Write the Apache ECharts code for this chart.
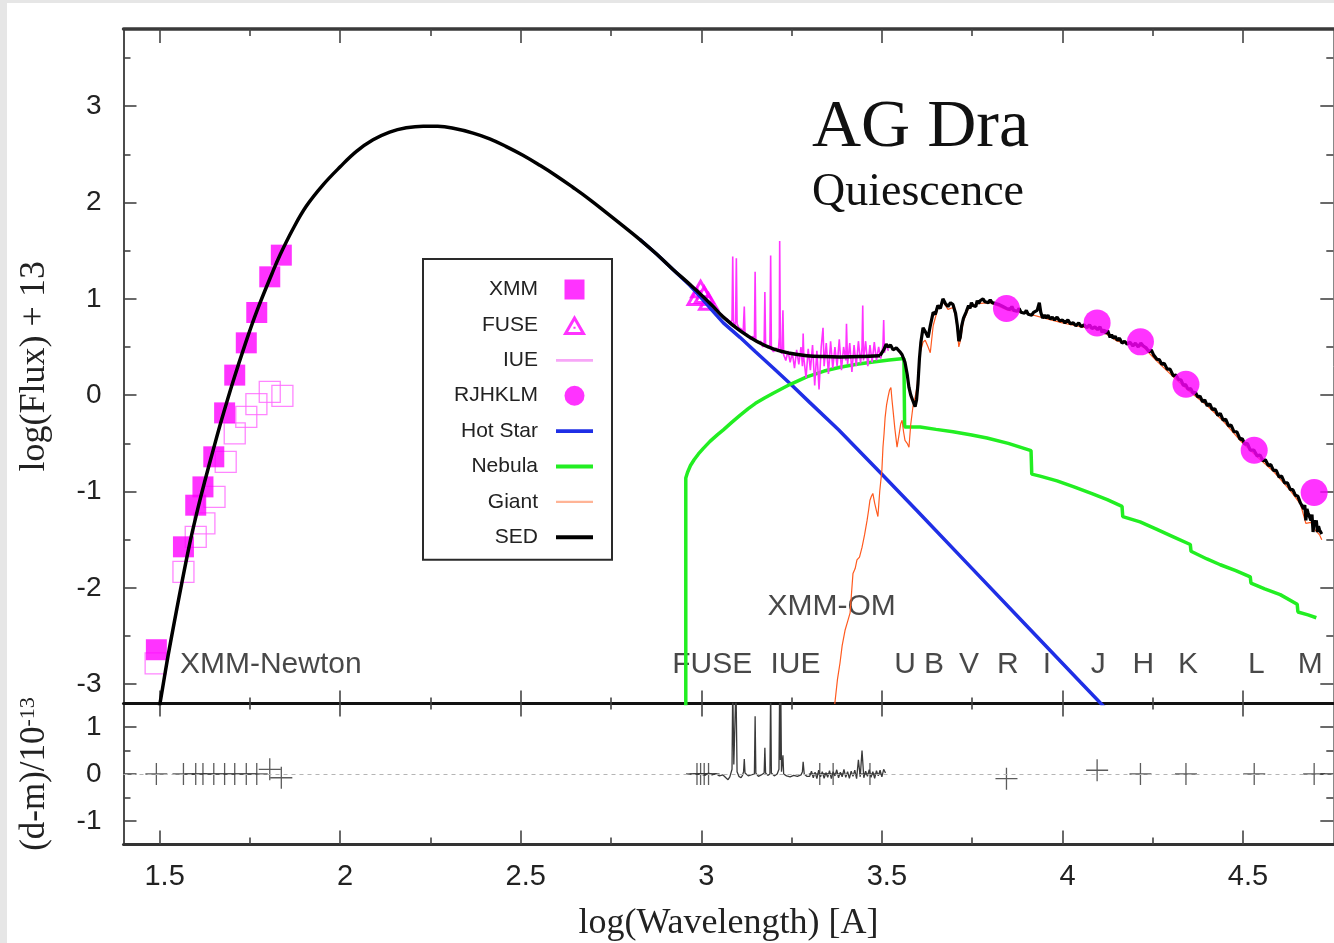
<!DOCTYPE html>
<html>
<head>
<meta charset="utf-8">
<title>AG Dra SED</title>
<script src="https://cdn.jsdelivr.net/npm/echarts@6/dist/echarts.min.js"></script>
<style>
  html, body { margin: 0; padding: 0; width: 1334px; height: 943px; overflow: hidden; background: #e6e6e6; }
  #chart { position: absolute; left: 7px; top: 3px; width: 1327px; height: 940px; background: #ffffff; }
</style>
</head>
<body>
<div id="chart"></div>
<script>
// ---------------- data (log wavelength [A], log flux + 13) ----------------
const xMajorTicks = [1.5, 2, 2.5, 3, 3.5, 4, 4.5];
const xMinorTicks = [1.75, 2.25, 2.75, 3.25, 3.75, 4.25];
const fluxTicks = [-3, -2, -1, 0, 1, 2, 3];
const fluxMinorTicks = [-2.5, -1.5, -0.5, 0.5, 1.5, 2.5, 3.5];
const residTicks = [-1, 0, 1];
const residMinorTicks = [-0.5, 0.5];

// XMM-Newton photometry (filled) and the second XMM set (open)
const xmmFilled = [
  [1.491, -2.642], [1.566, -1.574], [1.600, -1.142], [1.620, -0.952], [1.650, -0.640],
  [1.680, -0.184], [1.708, 0.208], [1.740, 0.543], [1.769, 0.858], [1.805, 1.228], [1.837, 1.453]
];
const xmmOpen = [
  [1.489, -2.784], [1.566, -1.834], [1.600, -1.470], [1.624, -1.331], [1.652, -1.055],
  [1.683, -0.692], [1.708, -0.397], [1.740, -0.225], [1.768, -0.093], [1.805, 0.034], [1.840, -0.007]
];
// FUSE points
const fusePoints = [[2.988, 1.03], [2.998, 1.11], [3.008, 1.05], [3.020, 0.98]];
// R J H K L M photometry
const photometry = [[3.845, 0.900], [4.096, 0.750], [4.216, 0.553], [4.342, 0.114], [4.531, -0.571], [4.697, -1.010]];

// IUE spectrum
const iueSpectrum = [
  [3.000, 1.03], [3.008, 1.00], [3.016, 0.97], [3.024, 0.95], [3.032, 0.91], [3.040, 0.89], [3.048, 0.85],
  [3.056, 0.84], [3.064, 0.80], [3.072, 0.79], [3.080, 0.75], [3.085, 0.78], [3.087, 1.44], [3.089, 0.76],
  [3.093, 0.72], [3.095, 0.77], [3.097, 1.42], [3.099, 0.74], [3.104, 0.70], [3.110, 0.69], [3.116, 0.66],
  [3.119, 0.92], [3.121, 0.64], [3.128, 0.63], [3.136, 0.58], [3.143, 0.61], [3.147, 0.58], [3.149, 1.28],
  [3.151, 0.57], [3.158, 0.54], [3.165, 0.56], [3.170, 0.50], [3.174, 0.54], [3.176, 1.07], [3.178, 0.51],
  [3.184, 0.49], [3.190, 0.52], [3.192, 1.45], [3.194, 0.48], [3.200, 0.45], [3.207, 0.49], [3.213, 0.45],
  [3.216, 0.60], [3.217, 1.60], [3.219, 0.46], [3.223, 0.43], [3.226, 0.88], [3.228, 0.42], [3.234, 0.36],
  [3.240, 0.46], [3.246, 0.34], [3.252, 0.44], [3.258, 0.28], [3.264, 0.47], [3.270, 0.32], [3.276, 0.50],
  [3.280, 0.30], [3.282, 0.64], [3.284, 0.38], [3.290, 0.18], [3.296, 0.48], [3.302, 0.26], [3.308, 0.52],
  [3.314, 0.10], [3.320, 0.46], [3.326, 0.06], [3.332, 0.50], [3.337, 0.70], [3.340, 0.30], [3.346, 0.54],
  [3.352, 0.22], [3.358, 0.56], [3.364, 0.28], [3.370, 0.50], [3.376, 0.30], [3.382, 0.58], [3.388, 0.26],
  [3.394, 0.50], [3.400, 0.36], [3.402, 0.74], [3.405, 0.32], [3.411, 0.54], [3.417, 0.24], [3.423, 0.52],
  [3.429, 0.30], [3.435, 0.56], [3.441, 0.33], [3.445, 0.50], [3.447, 0.93], [3.449, 0.36], [3.455, 0.56],
  [3.461, 0.30], [3.467, 0.52], [3.473, 0.34], [3.479, 0.55], [3.485, 0.36], [3.491, 0.50], [3.497, 0.38],
  [3.503, 0.52], [3.505, 0.78], [3.507, 0.44], [3.512, 0.52], [3.518, 0.46]
];

// model components
const hotStar = [
  [2.830, 1.615], [2.876, 1.465], [2.920, 1.31], [2.968, 1.14], [3.000, 1.01], [3.030, 0.88], [3.061, 0.75],
  [3.107, 0.60], [3.150, 0.45], [3.200, 0.28], [3.250, 0.105], [3.300, -0.075], [3.380, -0.36],
  [3.500, -0.82], [3.600, -1.21], [3.750, -1.80], [3.900, -2.39], [4.050, -2.98], [4.150, -3.37]
];
const nebula = [
  [2.957, -3.40], [2.957, -0.86], [2.962, -0.80], [2.970, -0.73], [2.980, -0.67], [2.992, -0.61],
  [3.005, -0.555], [3.024, -0.48], [3.045, -0.41], [3.061, -0.36], [3.085, -0.28], [3.107, -0.21],
  [3.130, -0.14], [3.150, -0.085], [3.175, -0.03], [3.199, 0.02], [3.245, 0.11], [3.292, 0.19],
  [3.340, 0.25], [3.384, 0.29], [3.430, 0.32], [3.476, 0.345], [3.520, 0.365], [3.561, 0.38],
  [3.563, -0.33], [3.606, -0.33], [3.650, -0.355], [3.697, -0.38], [3.745, -0.41], [3.791, -0.445],
  [3.850, -0.50], [3.913, -0.575], [3.915, -0.82], [3.938, -0.84], [3.985, -0.89], [4.030, -0.95],
  [4.080, -1.02], [4.124, -1.085], [4.165, -1.155], [4.167, -1.26], [4.215, -1.315], [4.260, -1.39],
  [4.307, -1.47], [4.354, -1.55], [4.356, -1.62], [4.400, -1.70], [4.437, -1.76], [4.480, -1.82],
  [4.520, -1.885], [4.522, -1.95], [4.560, -2.01], [4.603, -2.07], [4.650, -2.17], [4.652, -2.25],
  [4.680, -2.28], [4.703, -2.31]
];
const giant = [
  [3.365, -3.35], [3.370, -3.19], [3.377, -2.95], [3.384, -2.78], [3.390, -2.60], [3.398, -2.44],
  [3.405, -2.35], [3.412, -2.26], [3.416, -2.05], [3.420, -1.85], [3.426, -1.80], [3.431, -1.71],
  [3.438, -1.68], [3.445, -1.58], [3.452, -1.45], [3.459, -1.30], [3.463, -1.20], [3.467, -1.09],
  [3.471, -1.05], [3.475, -1.02], [3.480, -1.12], [3.485, -1.20], [3.489, -1.26], [3.494, -1.00],
  [3.500, -0.78], [3.503, -0.54], [3.506, -0.40], [3.509, -0.23], [3.513, -0.10], [3.517, -0.02],
  [3.521, 0.05], [3.525, 0.08], [3.528, -0.05], [3.531, -0.16], [3.536, -0.35], [3.542, -0.54],
  [3.548, -0.40], [3.552, -0.30], [3.556, -0.26], [3.560, -0.38], [3.564, -0.47], [3.570, -0.50],
  [3.575, -0.54], [3.580, -0.30], [3.586, -0.12], [3.592, -0.02], [3.597, 0.08], [3.602, 0.30],
  [3.606, 0.44], [3.614, 0.55], [3.620, 0.57], [3.628, 0.50], [3.634, 0.44], [3.642, 0.72],
  [3.655, 0.90], [3.669, 0.97], [3.683, 0.89], [3.697, 0.91], [3.704, 0.82], [3.709, 0.68],
  [3.713, 0.50], [3.717, 0.56], [3.726, 0.77], [3.740, 0.90], [3.764, 0.95], [3.800, 0.96],
  [3.850, 0.88], [3.900, 0.85], [3.950, 0.80], [4.000, 0.75], [4.050, 0.71], [4.104, 0.68],
  [4.152, 0.56], [4.224, 0.50], [4.262, 0.35], [4.307, 0.19], [4.348, 0.05], [4.401, -0.11],
  [4.445, -0.27], [4.492, -0.47], [4.539, -0.64], [4.584, -0.79], [4.631, -0.99], [4.659, -1.13],
  [4.674, -1.33], [4.688, -1.32], [4.700, -1.40], [4.712, -1.45], [4.718, -1.50]
];
// total model: smooth hot-star dominated part, then the cool-giant part
const sedSmooth = [
  [1.495, -3.31], [1.501, -3.20], [1.527, -2.63], [1.580, -1.60], [1.607, -1.16], [1.626, -0.88],
  [1.649, -0.56], [1.672, -0.25], [1.704, 0.15], [1.737, 0.53], [1.769, 0.87], [1.811, 1.26],
  [1.834, 1.46], [1.870, 1.73], [1.906, 1.96], [1.952, 2.18], [2.000, 2.37], [2.045, 2.53],
  [2.091, 2.65], [2.137, 2.73], [2.183, 2.775], [2.230, 2.792], [2.270, 2.790], [2.310, 2.772],
  [2.368, 2.72], [2.414, 2.66], [2.460, 2.58], [2.506, 2.49], [2.553, 2.385], [2.599, 2.275],
  [2.645, 2.155], [2.691, 2.03], [2.737, 1.895], [2.784, 1.755], [2.830, 1.615], [2.876, 1.465],
  [2.920, 1.31], [2.968, 1.15], [3.000, 1.04], [3.030, 0.93], [3.061, 0.81], [3.107, 0.67],
  [3.153, 0.56], [3.199, 0.48], [3.245, 0.435], [3.292, 0.41], [3.340, 0.40], [3.384, 0.397],
  [3.440, 0.40], [3.495, 0.41]
];
const sedGiant = [
  [3.495, 0.41], [3.505, 0.47], [3.512, 0.53], [3.518, 0.50], [3.524, 0.52], [3.531, 0.47], [3.540, 0.49],
  [3.550, 0.45], [3.556, 0.42], [3.564, 0.34], [3.570, 0.22], [3.575, 0.08], [3.580, 0.00], [3.586, -0.06],
  [3.592, -0.12], [3.596, -0.05], [3.600, 0.12], [3.604, 0.38], [3.608, 0.55], [3.614, 0.70], [3.620, 0.66],
  [3.628, 0.60], [3.634, 0.72], [3.642, 0.86], [3.648, 0.84], [3.655, 0.93], [3.662, 0.90], [3.669, 1.00],
  [3.676, 0.95], [3.683, 0.92], [3.690, 0.96], [3.697, 0.94], [3.704, 0.85], [3.709, 0.72], [3.713, 0.56],
  [3.717, 0.60], [3.721, 0.72], [3.726, 0.80], [3.733, 0.86], [3.740, 0.93], [3.744, 0.90], [3.748, 0.96],
  [3.752, 0.93], [3.756, 0.95], [3.760, 0.92], [3.764, 0.98], [3.768, 0.95], [3.772, 0.98], [3.776, 0.96],
  [3.780, 1.00], [3.785, 0.97], [3.790, 0.99], [3.795, 0.96], [3.800, 0.99], [3.805, 0.96], [3.810, 0.98],
  [3.815, 0.95], [3.820, 0.97], [3.825, 0.94], [3.830, 0.95], [3.835, 0.92], [3.840, 0.93], [3.845, 0.90],
  [3.850, 0.91], [3.855, 0.89], [3.860, 0.92], [3.865, 0.88], [3.870, 0.89], [3.875, 0.87], [3.880, 0.90],
  [3.885, 0.86], [3.890, 0.87], [3.895, 0.85], [3.900, 0.88], [3.905, 0.84], [3.910, 0.85], [3.915, 0.83],
  [3.920, 0.86], [3.925, 0.84], [3.930, 0.88], [3.936, 0.96], [3.940, 0.86], [3.945, 0.80], [3.950, 0.83],
  [3.955, 0.80], [3.960, 0.83], [3.966, 0.79], [3.972, 0.81], [3.978, 0.78], [3.985, 0.81], [3.992, 0.77],
  [4.000, 0.78], [4.007, 0.75], [4.015, 0.78], [4.022, 0.74], [4.030, 0.75], [4.037, 0.72], [4.045, 0.75],
  [4.052, 0.71], [4.060, 0.73], [4.067, 0.70], [4.075, 0.73], [4.082, 0.69], [4.090, 0.71], [4.097, 0.68],
  [4.104, 0.71], [4.110, 0.65], [4.115, 0.68], [4.120, 0.64], [4.125, 0.67], [4.132, 0.60], [4.136, 0.63],
  [4.140, 0.59], [4.146, 0.61], [4.152, 0.57], [4.158, 0.59], [4.165, 0.54], [4.172, 0.56], [4.179, 0.53],
  [4.187, 0.55], [4.195, 0.51], [4.202, 0.54], [4.210, 0.50], [4.217, 0.54], [4.224, 0.51], [4.232, 0.49],
  [4.240, 0.45], [4.246, 0.47], [4.252, 0.42], [4.257, 0.41], [4.262, 0.37], [4.268, 0.37], [4.275, 0.32],
  [4.282, 0.33], [4.290, 0.27], [4.298, 0.27], [4.307, 0.20], [4.314, 0.21], [4.322, 0.16], [4.328, 0.16],
  [4.335, 0.10], [4.341, 0.11], [4.348, 0.06], [4.355, 0.07], [4.362, 0.02], [4.368, 0.03], [4.375, -0.02],
  [4.381, -0.01], [4.388, -0.07], [4.394, -0.05], [4.401, -0.11], [4.408, -0.09], [4.415, -0.15],
  [4.422, -0.14], [4.430, -0.21], [4.437, -0.19], [4.445, -0.26], [4.452, -0.25], [4.460, -0.32],
  [4.467, -0.31], [4.475, -0.38], [4.483, -0.38], [4.492, -0.46], [4.498, -0.45], [4.505, -0.51],
  [4.512, -0.50], [4.520, -0.57], [4.530, -0.57], [4.539, -0.63], [4.547, -0.62], [4.555, -0.68],
  [4.562, -0.67], [4.570, -0.73], [4.577, -0.72], [4.584, -0.78], [4.592, -0.78], [4.600, -0.85],
  [4.607, -0.84], [4.615, -0.91], [4.623, -0.91], [4.631, -0.98], [4.638, -0.98], [4.645, -1.04],
  [4.652, -1.05], [4.659, -1.12], [4.664, -1.10], [4.668, -1.18], [4.671, -1.14], [4.674, -1.30],
  [4.677, -1.18], [4.680, -1.22], [4.684, -1.20], [4.688, -1.30], [4.691, -1.24], [4.694, -1.42],
  [4.697, -1.30], [4.700, -1.35], [4.703, -1.30], [4.706, -1.42], [4.709, -1.36], [4.712, -1.40],
  [4.715, -1.38], [4.718, -1.44]
];

// residuals (d-m)/1e-13
const residSpectrum = [
  [2.998, 0.00], [3.010, -0.03], [3.020, 0.02], [3.030, -0.02], [3.040, 0.01], [3.050, -0.04], [3.060, -0.02],
  [3.068, -0.08], [3.074, -0.12], [3.079, -0.06], [3.085, 0.10], [3.087, 1.90], [3.090, 0.20], [3.096, 1.90],
  [3.099, 0.05], [3.104, -0.05], [3.110, -0.08], [3.114, -0.03], [3.117, 0.05], [3.119, 0.32], [3.121, 0.02],
  [3.130, -0.04], [3.138, -0.02], [3.147, 0.00], [3.149, 1.23], [3.151, 0.02], [3.158, -0.05], [3.166, -0.02],
  [3.174, 0.02], [3.176, 0.56], [3.178, 0.02], [3.184, -0.03], [3.190, 0.00], [3.192, 1.90], [3.194, 0.02],
  [3.202, -0.04], [3.210, 0.00], [3.215, 0.10], [3.217, 1.90], [3.219, 0.30], [3.220, 1.90], [3.222, 0.05],
  [3.224, 0.02], [3.226, 0.40], [3.228, 0.00], [3.236, -0.04], [3.246, -0.06], [3.256, -0.03], [3.266, -0.05],
  [3.276, -0.02], [3.280, 0.05], [3.282, 0.26], [3.285, 0.00], [3.292, -0.05], [3.300, -0.05], [3.305, 0.06],
  [3.310, -0.08], [3.315, 0.04], [3.320, -0.10], [3.325, 0.08], [3.330, -0.06], [3.335, 0.05], [3.340, -0.09],
  [3.345, 0.03], [3.350, -0.07], [3.355, 0.07], [3.360, -0.10], [3.365, 0.05], [3.370, -0.04], [3.375, 0.09],
  [3.380, -0.08], [3.385, 0.04], [3.390, -0.06], [3.395, 0.10], [3.400, -0.07], [3.405, 0.05], [3.410, -0.09],
  [3.415, 0.06], [3.420, -0.05], [3.425, 0.08], [3.430, -0.10], [3.435, 0.30], [3.440, -0.06], [3.445, 0.50],
  [3.450, -0.08], [3.455, 0.06], [3.460, -0.05], [3.465, 0.09], [3.470, -0.07], [3.475, 0.05], [3.480, -0.09],
  [3.485, 0.07], [3.490, -0.04], [3.495, 0.08], [3.500, -0.06], [3.505, 0.10], [3.510, 0.02]
];
const residPoints = [
  [1.491, 0], [1.566, 0], [1.600, 0], [1.620, 0], [1.650, 0], [1.680, 0], [1.708, 0], [1.740, 0],
  [1.769, 0], [1.805, 0.10], [1.837, -0.08],
  [2.988, 0], [2.998, 0], [3.008, 0], [3.020, 0],
  [3.328, 0], [3.365, 0], [3.467, 0],
  [3.845, -0.10], [4.096, 0.08], [4.216, 0], [4.342, 0], [4.531, 0], [4.697, 0]
];

// annotation labels placed in data coordinates
const bandNames = ['U', 'B', 'V', 'R', 'I', 'J', 'H', 'K', 'L', 'M'];
const bandCenters = [3.564, 3.644, 3.741, 3.849, 3.957, 4.099, 4.224, 4.348, 4.537, 4.686];
const bandLabelY = -2.80;
const instrumentNames = ['XMM-Newton', 'FUSE', 'IUE', 'XMM-OM'];
const instrumentStarts = [1.555, 2.918, 3.190, 3.182];
const instrumentY = [-2.80, -2.80, -2.80, -2.20];

// ---------------- styling ----------------
const SERIF = '"Liberation Serif","DejaVu Serif",serif';
const SANS = '"Liberation Sans","DejaVu Sans",sans-serif';
const X_MIN = 1.4, X_MAX = 4.75;
const FLUX_MIN = -3.2, FLUX_MAX = 3.8;
const RES_MIN = -1.5, RES_MAX = 1.5;

const squarePath = 'path://M0,0H10V10H0Z';
const trianglePath = 'path://M10,0L20,17.3L0,17.3Z M10,5.2L4.5,14.7L15.5,14.7Z M9.1,10.2H10.9V12H9.1Z';
const crossPath = 'path://M10,0V20M0,10H20';

function axis(gridIndex, position, min, max, ticks, tickLen, line, label) {
  return {
    type: 'value', gridIndex, position, min, max,
    axisLine: line ? { show: true, onZero: false, lineStyle: line } : { show: false, onZero: false },
    axisTick: { show: true, inside: true, length: tickLen, customValues: ticks,
      lineStyle: { color: '#444', width: 1.6 } },
    axisLabel: label ? Object.assign({ show: true, customValues: ticks, fontFamily: SANS,
      fontSize: 28, color: '#222' }, label) : { show: false },
    splitLine: { show: false },
    minorTick: { show: false },
    silent: true
  };
}

const xAxes = [
  axis(0, 'bottom', X_MIN, X_MAX, xMajorTicks, 13, { color: '#111', width: 3 }),
  axis(0, 'bottom', X_MIN, X_MAX, xMinorTicks, 6, null),
  axis(0, 'top', X_MIN, X_MAX, xMajorTicks, 14, { color: '#3a3a3a', width: 3.5 }),
  axis(0, 'top', X_MIN, X_MAX, xMinorTicks, 7, null),
  axis(1, 'top', X_MIN, X_MAX, xMajorTicks, 13, null),
  axis(1, 'top', X_MIN, X_MAX, xMinorTicks, 6, null),
  Object.assign(axis(1, 'bottom', X_MIN, X_MAX, xMajorTicks, 14, { color: '#333', width: 3 },
    { margin: 18, fontSize: 29, padding: [0, 0, 0, 10] }), {
    name: 'log(Wavelength) [A]', nameLocation: 'middle', nameGap: 61,
    nameTextStyle: { fontFamily: SERIF, fontSize: 36, color: '#222' }
  }),
  axis(1, 'bottom', X_MIN, X_MAX, xMinorTicks, 7, null)
];
const yAxes = [
  Object.assign(axis(0, 'left', FLUX_MIN, FLUX_MAX, fluxTicks, 13, { color: '#111', width: 1.5 }, { margin: 22 }), {
    name: 'log(Flux) + 13', nameLocation: 'middle', nameGap: 71, nameRotate: 90,
    nameTextStyle: { fontFamily: SERIF, fontSize: 36, color: '#222' }
  }),
  axis(0, 'left', FLUX_MIN, FLUX_MAX, fluxMinorTicks, 7, null),
  axis(0, 'right', FLUX_MIN, FLUX_MAX, fluxTicks, 13, { color: '#888', width: 1 }),
  axis(0, 'right', FLUX_MIN, FLUX_MAX, fluxMinorTicks, 7, null),
  Object.assign(axis(1, 'left', RES_MIN, RES_MAX, residTicks, 13, { color: '#111', width: 1.5 }, { margin: 22 }), {
    name: '(d-m)/10{s|-13}', nameLocation: 'middle', nameGap: 71, nameRotate: 90,
    nameTextStyle: { fontFamily: SERIF, fontSize: 35, color: '#222',
      rich: { s: { fontFamily: SERIF, fontSize: 22, color: '#222', verticalAlign: 'top' } } }
  }),
  axis(1, 'left', RES_MIN, RES_MAX, residMinorTicks, 7, null),
  axis(1, 'right', RES_MIN, RES_MAX, residTicks, 13, { color: '#888', width: 1 }),
  axis(1, 'right', RES_MIN, RES_MAX, residMinorTicks, 7, null)
];

function curve(name, data, color, width, extra) {
  return Object.assign({
    type: 'line', name, data, xAxisIndex: 0, yAxisIndex: 0,
    symbol: 'none', showSymbol: false, clip: true, silent: true,
    lineStyle: { color, width }, itemStyle: { color },
    emphasis: { disabled: true }
  }, extra || {});
}
function points(name, data, symbol, size, itemStyle, extra) {
  return Object.assign({
    type: 'scatter', name, data, xAxisIndex: 0, yAxisIndex: 0,
    symbol, symbolSize: size, itemStyle, silent: true, emphasis: { disabled: true }
  }, extra || {});
}

const series = [
  curve('Hot Star', hotStar, '#1f2fe6', 3.5),
  curve('Nebula', nebula, '#22ee22', 3.5),
  curve('Giant', giant, '#ff5a1f', 1.2),
  curve('IUE', iueSpectrum, '#ff33ff', 1.6),
  points('XMM-open', xmmOpen, squarePath, 21,
    { color: 'rgba(0,0,0,0)', borderColor: '#ff66ff', borderWidth: 1.3 }),
  points('XMM', xmmFilled, 'rect', 21, { color: '#ff00ff' }),
  points('FUSE', fusePoints, trianglePath, [23, 20], { color: '#ff00ff' }),
  curve('SED', sedSmooth, '#000000', 3.5, { smooth: 0.4 }),
  curve('SED', sedGiant, '#000000', 3.2),
  points('RJHKLM', photometry, 'circle', 27, { color: '#ff00ff' }, { z: 5 }),
  // residual panel
  curve('residual spectrum', residSpectrum, '#3a3a3a', 1.3, {
    xAxisIndex: 6, yAxisIndex: 4,
    markLine: {
      silent: true, symbol: ['none', 'none'], label: { show: false },
      lineStyle: { type: [4, 4], color: '#b5b5b5', width: 1 },
      data: [{ yAxis: 0 }]
    }
  }),
  points('residual points', residPoints, crossPath, 22,
    { color: 'rgba(0,0,0,0)', borderColor: '#333', borderWidth: 1.3 },
    { xAxisIndex: 6, yAxisIndex: 4 }),
  // annotation texts
  points('bands', bandNames.map((b, i) => ({ name: b, value: [bandCenters[i], bandLabelY] })), 'circle', 1,
    { color: 'rgba(0,0,0,0)' },
    { label: { show: true, position: 'inside', formatter: '{b}', fontFamily: SANS, fontSize: 30, color: '#1a1a1a' } }),
  points('instruments', instrumentNames.map((b, i) => ({ name: b, value: [instrumentStarts[i], instrumentY[i]] })), 'circle', 1,
    { color: 'rgba(0,0,0,0)' },
    { label: { show: true, position: 'right', distance: 0, formatter: '{b}', fontFamily: SANS, fontSize: 30, color: '#1a1a1a' } })
];

const option = {
  animation: false,
  backgroundColor: '#ffffff',
  grid: [
    { left: 116.5, top: 26, width: 1209.8, height: 674.5 },
    { left: 116.5, top: 700.5, width: 1209.8, height: 141 }
  ],
  xAxis: xAxes,
  yAxis: yAxes,
  legend: {
    orient: 'vertical', align: 'right', left: 416, top: 256,
    padding: [20, 19, 12, 5], itemGap: 14.4, itemWidth: 37, itemHeight: 20,
    borderColor: '#2a2a2a', borderWidth: 2, backgroundColor: '#ffffff',
    selectedMode: false,
    itemStyle: { borderWidth: 0 },
    textStyle: { fontFamily: SANS, fontSize: 21, color: '#222', width: 110, align: 'right',
      lineHeight: 20, padding: [0, 13, 0, 0] },
    data: [
      { name: 'XMM', icon: squarePath },
      { name: 'FUSE', icon: trianglePath },
      { name: 'IUE', icon: 'path://M0,0H40V3H0Z', itemStyle: { color: '#f7a6f7' } },
      { name: 'RJHKLM', icon: 'circle' },
      { name: 'Hot Star', icon: 'path://M0,0H40V4.2H0Z' },
      { name: 'Nebula', icon: 'path://M0,0H40V4.5H0Z' },
      { name: 'Giant', icon: 'path://M0,0H40V2.5H0Z', itemStyle: { color: '#ffb496' } },
      { name: 'SED', icon: 'path://M0,0H40V4.2H0Z' }
    ]
  },
  graphic: [
    { type: 'text', x: 805, y: 125, silent: true,
      style: { text: 'AG Dra', fontFamily: SERIF, fontSize: 68, fill: '#111', align: 'left', verticalAlign: 'middle' } },
    { type: 'text', x: 805, y: 190, silent: true,
      style: { text: 'Quiescence', fontFamily: SERIF, fontSize: 46, fill: '#111', align: 'left', verticalAlign: 'middle' } }
  ],
  series
};

const chart = echarts.init(document.getElementById('chart'), null, { renderer: 'canvas' });
chart.setOption(option);
</script>
</body>
</html>
